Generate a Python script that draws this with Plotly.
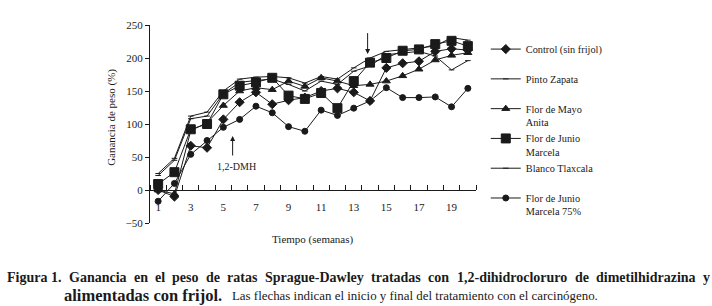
import plotly.graph_objects as go

weeks = list(range(1, 21))
control = [0, -10, 67, 64, 107, 133, 148, 130, 136, 140, 150, 154, 148, 135, 185, 192, 195, 210, 214, 212]
pinto_zapata = [25, 48, 112, 118, 150, 168, 171, 172, 170, 162, 172, 168, 185, 200, 210, 213, 215, 218, 231, 227]
flor_mayo = [0, -6, 90, 102, 128, 150, 155, 152, 165, 157, 170, 165, 158, 160, 165, 173, 183, 197, 204, 208]
flor_junio = [9, 27, 92, 100, 145, 158, 163, 170, 143, 138, 147, 124, 165, 193, 200, 211, 213, 221, 226, 218]
blanco_tlaxcala = [22, 45, 108, 112, 146, 163, 166, 168, 160, 150, 165, 160, 180, 188, 205, 207, 210, 203, 182, 196]
flor_junio_75 = [-17, 10, 54, 75, 95, 107, 127, 117, 96, 89, 121, 113, 124, 135, 155, 140, 140, 141, 126, 154]

names = ["Control (sin frijol)<br> ", "Pinto Zapata<br> ", "Flor de Mayo<br>Anita",
         "Flor de Junio<br>Marcela", "Blanco Tlaxcala<br> ", "Flor de Junio<br>Marcela 75%"]
series = [control, pinto_zapata, flor_mayo, flor_junio, blanco_tlaxcala, flor_junio_75]
symbols = ["diamond", "line-ew", "triangle-up", "square", "line-ew", "circle"]
sizes = [7, 4, 7, 9, 4, 6]

tick_vals = [1, 3, 5, 7, 9, 11, 13, 15, 17, 19]
y_ticks = [-50, 0, 50, 100, 150, 200, 250]

caption1_words = ["Figura 1.", "Ganancia", "en", "el", "peso", "de", "ratas", "Sprague-Dawley",
                  "tratadas", "con", "1,2-dihidrocloruro", "de", "dimetilhidrazina", "y"]
caption2_bold = "alimentadas con frijol."
caption2_rest = "Las flechas indican el inicio y final del tratamiento con el carcinógeno."

ink = "#1a1a1a"
font = "Times New Roman, Liberation Serif, serif"

# approximate Times-Bold advance widths (per 1000 em) used to justify the caption
TB = {' ': 250, ',': 250, '-': 333, '.': 250, '1': 500, '2': 500, 'A': 722, 'D': 722,
      'F': 611, 'G': 778, 'S': 556, 'a': 500, 'b': 556, 'c': 444, 'd': 556, 'e': 444,
      'f': 333, 'g': 500, 'h': 556, 'i': 278, 'j': 333, 'k': 556, 'l': 278, 'm': 833,
      'n': 556, 'o': 500, 'p': 556, 'q': 556, 'r': 444, 's': 389, 't': 333, 'u': 556,
      'v': 500, 'w': 722, 'x': 500, 'y': 500, 'z': 444}


def word_w(w, size):
    return sum(TB.get(c, 500) for c in w) * size / 1000.0


def justify(words, x0, x1, size):
    widths = [word_w(w, size) for w in words]
    gap = (x1 - x0 - sum(widths)) / (len(words) - 1)
    xs, cur = [], x0
    for wd in widths:
        xs.append(cur)
        cur += wd + gap
    return xs


fig = go.Figure()
for nm, ys, sym, sz in zip(names, series, symbols, sizes):
    fig.add_trace(go.Scatter(
        x=weeks, y=ys, name=nm, mode="lines+markers",
        line=dict(color=ink, width=1),
        marker=dict(symbol=sym, size=sz, color=ink, line=dict(color=ink, width=1)),
        cliponaxis=False,
    ))

fig.update_layout(
    width=712, height=306,
    margin=dict(l=150, r=236, t=25, b=83),
    paper_bgcolor="white", plot_bgcolor="white",
    font=dict(family=font, color=ink, size=11),
    showlegend=True,
    legend=dict(x=1.03, y=0.945, xanchor="left", yanchor="top",
                font=dict(family=font, size=10.3, color=ink),
                valign="top", tracegroupgap=0, itemwidth=30, maxheight=300,
                bgcolor="rgba(0,0,0,0)"),
    xaxis=dict(range=[0.5, 20.5], anchor="free", position=1/6,
               showgrid=False, zeroline=False, showline=True, linecolor=ink, linewidth=1,
               tickvals=tick_vals, ticktext=[str(v) for v in tick_vals], ticks="",
               ticklabelstandoff=7,
               minor=dict(ticks="inside", tick0=0.5, dtick=1, ticklen=5, tickcolor=ink, showgrid=False),
               tickfont=dict(family=font, size=11, color=ink)),
    yaxis=dict(range=[-50, 250], showgrid=False, zeroline=False, showline=True,
               linecolor=ink, linewidth=1, tickvals=y_ticks, ticks="outside", ticklen=4,
               tickcolor=ink, tickfont=dict(family=font, size=11, color=ink)),
)


def px_x(p):
    return (p - 150) / 326


def px_y(p):
    return (223.3 - p) / 198.3


ann = [
    dict(text="Tiempo (semanas)", x=313, y=240),
    dict(text="Ganancia de peso (%)", x=112, y=118, textangle=-90),
]
for a in ann:
    fig.add_annotation(xref="paper", yref="paper", showarrow=False,
                       x=px_x(a["x"]), y=px_y(a["y"]),
                       text=a["text"], textangle=a.get("textangle", 0),
                       font=dict(family=font, size=11, color=ink),
                       xanchor="center", yanchor="middle")

# arrows
fig.add_annotation(x=13.85, y=206, ax=13.85, ay=240, xref="x", yref="y", axref="x", ayref="y",
                   text="", showarrow=True, arrowhead=2, arrowsize=1, arrowwidth=1, arrowcolor=ink)
fig.add_annotation(x=13.85, y=259, xref="x", yref="y", text="1,2-DMH", showarrow=False,
                   font=dict(family=font, size=10, color=ink))
fig.add_annotation(x=5.57, y=82, ax=5.57, ay=50, xref="x", yref="y", axref="x", ayref="y",
                   text="", showarrow=True, arrowhead=2, arrowsize=1, arrowwidth=1, arrowcolor=ink)
fig.add_annotation(x=5.8, y=36, xref="x", yref="y", text="1,2-DMH", showarrow=False,
                   font=dict(family=font, size=10, color=ink))

# caption, line 1 (justified)
for w, xp in zip(caption1_words, justify(caption1_words, 5, 708, 14)):
    fig.add_annotation(xref="paper", yref="paper", x=px_x(xp), y=px_y(278),
                       xanchor="left", yanchor="middle", showarrow=False,
                       text="<b>" + w + "</b>", font=dict(family=font, size=14, color=ink))
# caption, line 2
fig.add_annotation(xref="paper", yref="paper", x=px_x(62), y=px_y(296),
                   xanchor="left", yanchor="middle", showarrow=False,
                   text="<b>" + caption2_bold + "</b>", font=dict(family=font, size=16.5, color=ink))
fig.add_annotation(xref="paper", yref="paper", x=px_x(230), y=px_y(296.5),
                   xanchor="left", yanchor="middle", showarrow=False,
                   text=caption2_rest, font=dict(family=font, size=12.9, color=ink))

fig.write_html("out.html", config={"displayModeBar": False},
               post_script="document.body.style.margin='0';document.body.style.overflow='hidden';")
